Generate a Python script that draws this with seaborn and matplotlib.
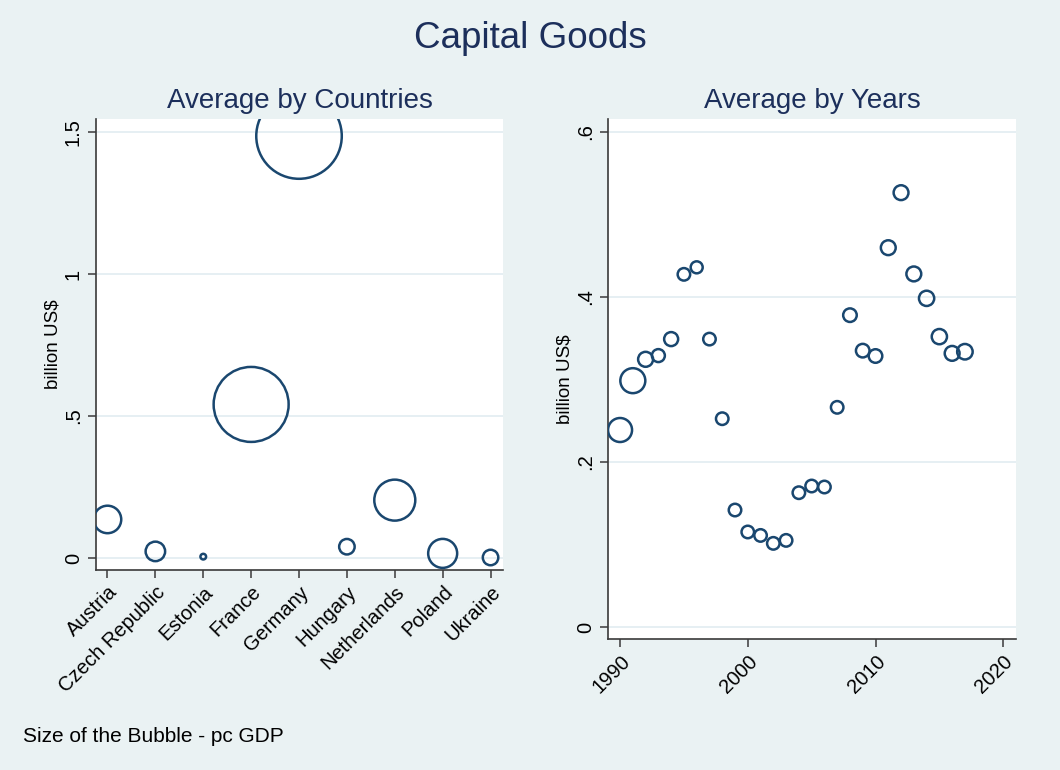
import matplotlib
matplotlib.use("Agg")
import matplotlib.pyplot as plt
import seaborn as sns
import pandas as pd

# Average capital-goods trade, billion US$
countries = ["Austria", "Czech Republic", "Estonia", "France", "Germany",
             "Hungary", "Netherlands", "Poland", "Ukraine"]
country_value = [0.136, 0.0235, 0.005, 0.541, 1.486, 0.040, 0.204, 0.0165, 0.002]
country_pcgdp = [189, 95, 8, 1406, 1828, 60, 420, 210, 60]

years = list(range(1990, 2018))
year_value = [0.2388, 0.2986, 0.3245, 0.329, 0.349, 0.4275, 0.436, 0.349,
              0.2525, 0.1418, 0.1152, 0.111, 0.1014, 0.105, 0.1628, 0.1709,
              0.1697, 0.2663, 0.378, 0.335, 0.3285, 0.4598, 0.5265, 0.428,
              0.3984, 0.352, 0.3317, 0.3337]
year_pcgdp = [144, 156, 56, 42, 49, 39, 36, 39, 39, 39, 39, 39, 39, 39,
              39, 39, 39, 39, 46, 46, 46, 55, 55, 55, 58, 58, 55, 60]

country_ticks = [0, 0.5, 1, 1.5]
country_ticklabels = ["0", ".5", "1", "1.5"]
year_yticks = [0, 0.2, 0.4, 0.6]
year_yticklabels = ["0", ".2", ".4", ".6"]
year_xticks = [1990, 2000, 2010, 2020]

BG = "#EAF2F3"
NAVY = "#1A476F"
TITLE = "#1C2F5B"
GRID = "#E2ECF1"
AXIS = "#3a3a3a"

sns.set_theme(style="white")
plt.rcParams["font.family"] = ["Liberation Sans", "DejaVu Sans"]

W, H, DPI = 1060, 770, 100
fig = plt.figure(figsize=(W / DPI, H / DPI), dpi=DPI, facecolor=BG)


def px_axes(left, top, right, bottom):
    return fig.add_axes([left / W, 1 - bottom / H, (right - left) / W, (bottom - top) / H])


ax1 = px_axes(96, 119, 503, 570)
ax2 = px_axes(608.3, 119, 1016, 639.3)

# marker area in pt^2 for a weight equal to squared pixel radius
k = (2 * 72 / DPI) ** 2

df_c = pd.DataFrame({"country": countries, "value": country_value, "w": country_pcgdp})
df_y = pd.DataFrame({"year": years, "value": year_value, "w": year_pcgdp})

sns.scatterplot(data=df_c, x="country", y="value", size="w",
                sizes=(0, k * max(country_pcgdp)), size_norm=(0, max(country_pcgdp)),
                color=NAVY, facecolor="none", edgecolor=NAVY, linewidth=1.8,
                legend=False, ax=ax1, zorder=3)
sns.scatterplot(data=df_y, x="year", y="value", size="w",
                sizes=(0, k * max(year_pcgdp)), size_norm=(0, max(year_pcgdp)),
                color=NAVY, facecolor="none", edgecolor=NAVY, linewidth=1.8,
                legend=False, ax=ax2, zorder=3)

for ax in (ax1, ax2):
    ax.set_facecolor("white")
    ax.spines["top"].set_visible(False)
    ax.spines["right"].set_visible(False)
    for s in ("left", "bottom"):
        ax.spines[s].set_color(AXIS)
        ax.spines[s].set_linewidth(1.2)
    ax.grid(axis="y", color=GRID, linewidth=1.2, zorder=0)
    ax.grid(axis="x", visible=False)
    ax.set_axisbelow(True)
    ax.tick_params(axis="both", direction="out", length=6, width=1.1, color=AXIS,
                   labelsize=14.5, labelcolor="black", left=True, bottom=True)
    ax.tick_params(axis="y", pad=3.5)
    ax.tick_params(axis="x", pad=3)
    ax.set_xlabel("")
    ax.set_ylabel("billion US$", fontsize=13.5, color="black", labelpad=2)

ax1.set_xlim(-0.24, 8.26)
ax1.set_ylim(-0.042, 1.546)
ax1.set_yticks(country_ticks)
ax1.set_yticklabels(country_ticklabels, rotation=90, va="center")
ax1.set_xticks(range(len(countries)))
ax1.set_xticklabels(countries, rotation=45, ha="right", rotation_mode="anchor")

ax2.set_xlim(1989.08, 2021.0)
ax2.set_ylim(-0.0149, 0.6158)
ax2.set_yticks(year_yticks)
ax2.set_yticklabels(year_yticklabels, rotation=90, va="center")
ax2.set_xticks(year_xticks)
ax2.set_xticklabels([str(y) for y in year_xticks], rotation=45, ha="right",
                    rotation_mode="anchor")

fig.text(0.5, 1 - 38 / H, "Capital Goods", ha="center", va="center",
         fontsize=26.5, color=TITLE)
fig.text(299.5 / W, 1 - 101 / H, "Average by Countries", ha="center", va="center",
         fontsize=20, color=TITLE)
fig.text(812 / W, 1 - 101 / H, "Average by Years", ha="center", va="center",
         fontsize=20, color=TITLE)
fig.text(23 / W, 1 - 736 / H, "Size of the Bubble - pc GDP", ha="left", va="center",
         fontsize=15, color="black")

fig.savefig("out.png", dpi=DPI, facecolor=BG)
